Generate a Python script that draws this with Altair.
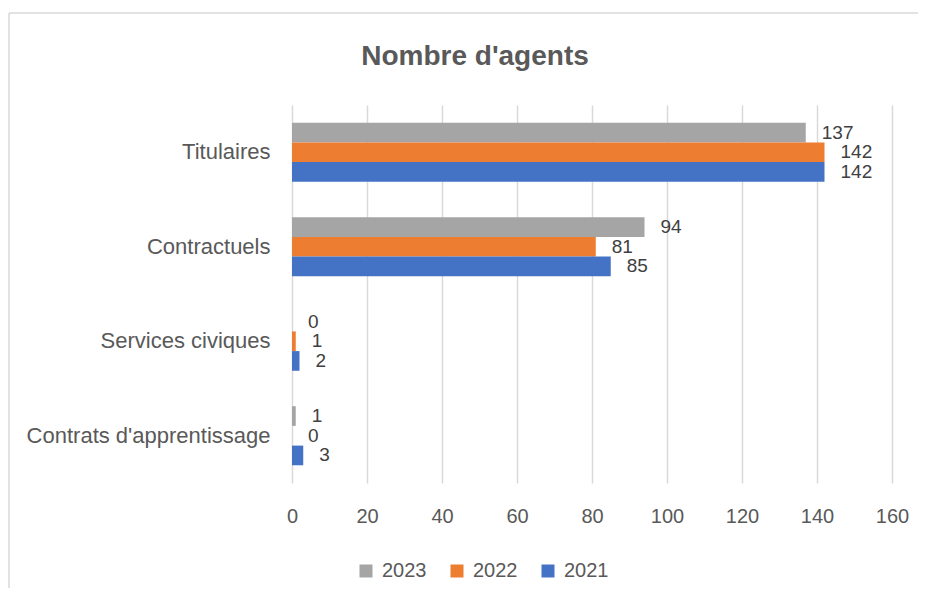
import altair as alt
import pandas as pd

categories = ["Titulaires", "Contractuels", "Services civiques", "Contrats d'apprentissage"]
years = ["2023", "2022", "2021"]
values_2023 = [137, 94, 0, 1]
values_2022 = [142, 81, 1, 0]
values_2021 = [142, 85, 2, 3]
colors = ["#A5A5A5", "#ED7D31", "#4472C4"]
x_ticks = [0, 20, 40, 60, 80, 100, 120, 140, 160]
title_text = "Nombre d'agents"

rows = []
for year, vals in zip(years, [values_2023, values_2022, values_2021]):
    for cat, v in zip(categories, vals):
        rows.append({"categorie": cat, "annee": year, "agents": v})
df = pd.DataFrame(rows)

FONT = "Liberation Sans"
GREY = "#595959"

base = alt.Chart(df).encode(
    y=alt.Y(
        "categorie:N",
        sort=categories,
        scale=alt.Scale(paddingInner=0.375, paddingOuter=0.1875),
        axis=alt.Axis(
            title=None, ticks=False, domain=False, grid=False, labelLimit=0,
            labelFontSize=22, labelFont=FONT, labelColor=GREY, labelPadding=22,
        ),
    ),
    yOffset=alt.YOffset("annee:N", sort=years, scale=alt.Scale(paddingInner=0, paddingOuter=0)),
)

bars = base.mark_bar().encode(
    x=alt.X(
        "agents:Q",
        scale=alt.Scale(domain=[0, 160], nice=False),
        axis=alt.Axis(
            title=None, values=x_ticks, ticks=False, domain=False, labelFlush=False,
            gridColor="#D9D9D9", gridWidth=1.5,
            labelFontSize=20, labelFont=FONT, labelColor=GREY, labelPadding=23,
        ),
    ),
    color=alt.Color(
        "annee:N",
        scale=alt.Scale(domain=years, range=colors),
        legend=alt.Legend(
            title=None, orient="none", direction="horizontal",
            legendX=64, legendY=456,
            symbolType="square", symbolSize=169, symbolStrokeWidth=0,
            labelFontSize=20, labelFont=FONT, labelColor=GREY,
            labelOffset=6, columnPadding=20,
        ),
    ),
)

labels = base.mark_text(
    align="left", baseline="middle", dx=16, fontSize=19, font=FONT, color="#404040"
).encode(
    x="agents:Q",
    text="agents:Q",
)

one = pd.DataFrame({"k": [0]})
vline = alt.Chart(one).mark_rule(color="#D9D9D9", strokeWidth=1.5).encode(
    x=alt.value(-283), y=alt.value(-92), y2=alt.value(500)
)
hline = alt.Chart(one).mark_rule(color="#D9D9D9", strokeWidth=1.5).encode(
    x=alt.value(-283), x2=alt.value(640), y=alt.value(-92)
)
title = alt.Chart(one).mark_text(
    text=title_text, font=FONT, fontSize=28, fontWeight="bold", color=GREY,
    align="center", baseline="alphabetic",
).encode(x=alt.value(183), y=alt.value(-40))

chart = alt.layer(vline, hline, title, bars, labels).properties(
    width=600,
    height=378,
    padding={"left": 284, "top": 97, "right": 26, "bottom": 105},
    autosize=alt.AutoSizeParams(type="none"),
).configure_view(stroke=None)

chart.save("out.html", embed_options={"renderer": "svg", "actions": False})
